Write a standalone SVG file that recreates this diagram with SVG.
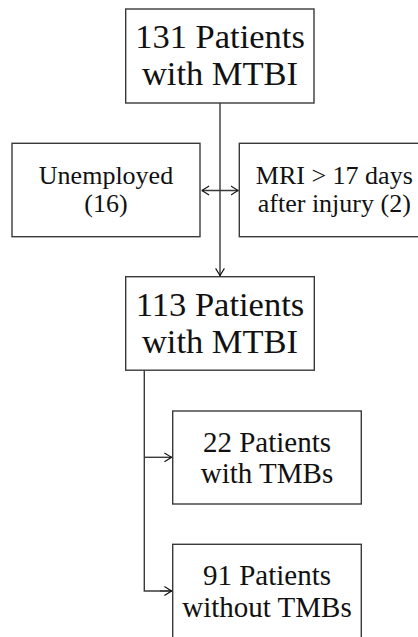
<svg xmlns="http://www.w3.org/2000/svg" width="418" height="637" viewBox="0 0 418 637">
<defs>
<style>
.box{fill:#fff;stroke:#3a3a3a;stroke-width:1.4}
text{font-family:'Liberation Serif','Times New Roman',Times,Tinos,serif;fill:#111;text-anchor:middle}
.big{font-size:34.5px}
.mid{font-size:29px}
.sm{font-size:26px}
.ln{fill:none;stroke:#3a3a3a;stroke-width:1.4}
</style>
<marker id="ah" viewBox="0 0 10 12" refX="10" refY="6" markerUnits="userSpaceOnUse" markerWidth="8" markerHeight="11" orient="auto-start-reverse">
<path d="M0.5,0.5 L9.5,6 L0.5,11.5" fill="none" stroke="#111" stroke-width="1.4"/>
</marker>
</defs>
<rect width="418" height="637" fill="#fff"/>
<g id="connectors">
<path class="ln" d="M220,103 V276" marker-end="url(#ah)"/>
<path class="ln" d="M201.5,190.5 H238.5" marker-start="url(#ah)" marker-end="url(#ah)"/>
<path class="ln" d="M144.3,370 V591 H172"/>
<path class="ln" d="M144.3,457.3 H172" marker-end="url(#ah)"/>
<path class="ln" d="M160,591 H172" marker-end="url(#ah)"/>
</g>
<g id="n131">
<rect class="box" x="125.7" y="9" width="188.3" height="94"/>
<text class="big" x="220" y="48.3" font-family="Liberation Serif, serif">131 Patients</text>
<text class="big" x="220" y="85" font-family="Liberation Serif, serif">with MTBI</text>
</g>
<g id="unemployed">
<rect class="box" x="12" y="143.3" width="188" height="93.4"/>
<text class="sm" x="106" y="184.3">Unemployed</text>
<text class="sm" x="106" y="211.7">(16)</text>
</g>
<g id="mri">
<rect class="box" x="239.3" y="143.3" width="190" height="93.4"/>
<text class="sm" x="334.3" y="184.3">MRI &gt; 17 days</text>
<text class="sm" x="334.3" y="211.7">after injury (2)</text>
</g>
<g id="n113">
<rect class="box" x="125.7" y="276.7" width="188.6" height="93.5"/>
<text class="big" x="220" y="316">113 Patients</text>
<text class="big" x="220" y="352.5">with MTBI</text>
</g>
<g id="n22">
<rect class="box" x="172.7" y="411" width="188.6" height="93"/>
<text class="mid" x="267" y="451.8">22 Patients</text>
<text class="mid" x="267" y="483">with TMBs</text>
</g>
<g id="n91">
<rect class="box" x="172.7" y="544.3" width="188.6" height="93.5"/>
<text class="mid" x="267" y="585.3">91 Patients</text>
<text class="mid" x="267" y="616.5">without TMBs</text>
</g>
</svg>
